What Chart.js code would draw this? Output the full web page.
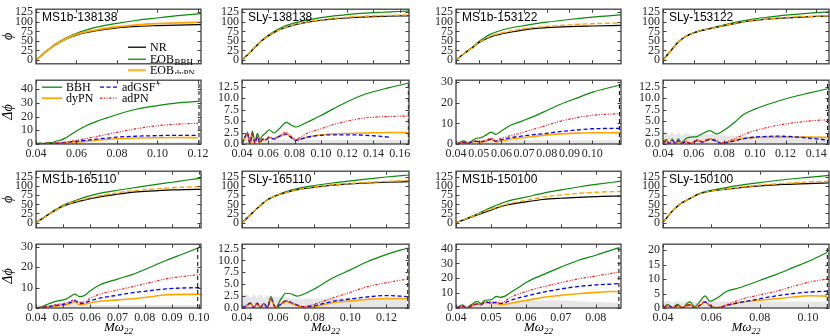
<!DOCTYPE html>
<html>
<head>
<meta charset="utf-8">
<script src="https://cdn.jsdelivr.net/npm/chart.js@4.4.1/dist/chart.umd.min.js"></script>
<style>
  html, body { margin: 0; padding: 0; background: #fff; }
  body { position: relative; width: 830px; height: 336px; overflow: hidden; }
  canvas { position: absolute; }
</style>
</head>
<body>
<script>
// ---- data ----
const phiTicks = [0, 25, 50, 75, 100, 125];

// MS1b-138138
const c1Name = 'MS1b-138138';
const c1XTicks = [0.04, 0.06, 0.08, 0.10, 0.12];
const c1DTicks = [0, 10, 20, 30, 40];
const c1PhiX = [0.04, 0.0425, 0.045, 0.0475, 0.05, 0.055, 0.06, 0.065, 0.07, 0.08, 0.09, 0.10, 0.11, 0.12, 0.1215];
const c1NR = [0, 11, 22, 32, 41, 55, 65, 72, 77, 84, 88, 90, 91.5, 92.5, 92.6];
const c1BBH = [0, 11, 23, 33, 43, 58, 70, 79, 86, 96, 104, 110, 116, 121, 121.8];
const c1DyPN = [0, 11, 22, 32, 42, 56, 67, 74, 79, 87, 92, 95, 97, 98.5, 98.7];
const c1DX = [0.04, 0.042, 0.044, 0.046, 0.048, 0.05, 0.052, 0.055, 0.06, 0.065, 0.07, 0.075, 0.08, 0.09, 0.10, 0.11, 0.12];
const c1dBBH = [0, 0.6, 0.3, 1.2, 1.0, 2.2, 2.6, 4.8, 9.5, 13.5, 16.5, 19, 21.5, 25.5, 28, 30, 31];
const c1dDyPN = [0, 0.1, 0.2, 0.3, 0.2, 0.4, 0.6, 0.9, 1.4, 2, 2.7, 3.3, 3.8, 4.4, 4.6, 4.7, 4.6];
const c1dGSF = [0, 0.1, 0.3, 0.4, 0.3, 0.6, 0.8, 1.2, 2, 2.8, 3.6, 4.3, 5, 5.7, 6.1, 6.3, 6.3];
const c1dPN = [0, 0.2, 0.4, 0.6, 0.5, 0.8, 1.0, 1.5, 2.7, 4, 5.5, 7, 8.5, 11.3, 13.3, 14.5, 15];
const c1Band = [1.5, 1.5, 1.4, 1.4, 1.3, 1.3, 1.3, 1.3, 1.3, 1.3, 1.3, 1.3, 1.3, 1.3, 1.3, 1.3, 1.3];
const c1Merger = 0.1205;

// SLy-138138
const c2Name = 'SLy-138138';
const c2XTicks = [0.04, 0.06, 0.08, 0.10, 0.12, 0.14, 0.16];
const c2DTicks = [0, 2.5, 5, 7.5, 10, 12.5];
const c2PhiX = [0.04, 0.0425, 0.045, 0.0475, 0.05, 0.0525, 0.055, 0.06, 0.065, 0.07, 0.08, 0.09, 0.10, 0.11, 0.12, 0.13, 0.14, 0.15, 0.16, 0.167];
const c2NR = [0, 8, 16, 25, 34, 42, 50, 63, 73, 81, 92, 99, 104, 107.5, 110, 112, 113.5, 114.5, 115.3, 115.8];
const c2BBH = [0, 8, 16, 25, 34, 43, 51, 65, 76, 85, 97, 105, 111, 115.5, 119, 122, 124, 125.5, 127, 128];
const c2DyPN = [0, 8, 16, 25, 34, 42, 50, 63, 73, 81.5, 92.5, 100, 105, 109, 112, 114, 115.5, 116.5, 117.3, 117.8];
const c2DX = [0.04, 0.042, 0.0441, 0.046, 0.0479, 0.0498, 0.0517, 0.0536, 0.0555, 0.058, 0.0606, 0.0644, 0.068, 0.0738, 0.077, 0.081, 0.085, 0.09, 0.10, 0.109, 0.12, 0.134, 0.1522, 0.167];
const c2dBBH = [0, 1.2, 2.5, 0.2, 2.8, 0.5, 2.3, 1.0, 1.8, 2.4, 3.1, 2.4, 3.2, 4.7, 4.2, 3.7, 4.1, 4.8, 6.2, 7.6, 9.2, 10.9, 12.3, 13.3];
const c2dDyPN = [0, 1.3, 2.3, 0.1, 2.1, 0.2, 1.5, 0.2, 1.0, 0.9, 1.4, 1.1, 1.6, 2.1, 1.5, 0.8, 1.1, 1.5, 2.0, 2.2, 2.3, 2.4, 2.5, 2.5];
const c2dGSF = [0, 1.4, 2.4, 0.1, 2.2, 0.2, 1.6, 0.2, 1.0, 0.9, 1.4, 1.1, 1.6, 2.2, 1.5, 0.8, 1.1, 1.5, 1.9, 2.0, 2.0, 1.9, 1.5, null];
const c2dPN = [0, 1.5, 2.6, 0.1, 2.4, 0.2, 1.8, 0.3, 1.2, 1.0, 1.6, 1.2, 1.8, 2.6, 1.8, 1.0, 1.6, 2.4, 3.3, 4.2, 5.0, 5.7, 6.0, 6.1];
const c2Band = [1.0, 1.5, 2.2, 1.2, 2.0, 1.0, 1.5, 1.0, 1.2, 1.0, 1.0, 1.0, 1.0, 0.9, 0.9, 0.9, 0.9, 0.9, 0.9, 0.9, 0.9, 0.9, 0.9, 0.9];
const c2Merger = 0.1665;

// MS1b-153122
const c3Name = 'MS1b-153122';
const c3XTicks = [0.04, 0.05, 0.06, 0.07, 0.08, 0.09, 0.10];
const c3DTicks = [0, 10, 20, 30];
const c3PhiX = [0.04, 0.0425, 0.045, 0.0475, 0.05, 0.0525, 0.055, 0.06, 0.065, 0.07, 0.08, 0.09, 0.10, 0.1127];
const c3NR = [0, 12, 23, 33, 45, 53, 60, 68, 74, 79, 84.5, 87.5, 89, 90.5];
const c3BBH = [0, 12, 24, 35, 48, 58, 67, 78, 85, 90, 99, 106, 112, 118];
const c3DyPN = [0, 12, 23, 34, 46, 54, 62, 71, 77, 82, 88, 92, 95, 97];
const c3DX = [0.04, 0.042, 0.0435, 0.045, 0.047, 0.049, 0.0506, 0.053, 0.0555, 0.0575, 0.06, 0.0638, 0.0675, 0.0711, 0.0785, 0.0858, 0.0932, 0.1005, 0.1127];
const c3dBBH = [0, 1.0, 1.5, 0.6, 1.5, 2.8, 3.0, 4.2, 5.8, 4.7, 6.3, 9.0, 10.5, 12.0, 15.5, 19.2, 22.3, 25.3, 28.8];
const c3dDyPN = [0, 0.4, 0.7, 0.2, 0.9, 1.2, 0.9, 1.3, 2.2, 1.0, 1.5, 2.3, 2.8, 3.3, 4.2, 4.9, 5.3, 5.5, 5.4];
const c3dGSF = [0, 0.5, 0.8, 0.2, 1.0, 1.3, 1.0, 1.5, 2.4, 1.4, 2.1, 3.0, 3.6, 4.2, 5.0, 6.0, 6.8, 7.4, 7.6];
const c3dPN = [0, 0.5, 0.9, 0.3, 1.0, 1.5, 1.2, 1.8, 2.8, 1.8, 2.8, 4.0, 5.0, 6.2, 8.6, 11.0, 12.8, 14.0, 14.8];
const c3Band = [1.5, 1.6, 1.6, 1.7, 1.7, 1.8, 1.8, 1.8, 1.8, 1.8, 1.8, 1.8, 1.8, 1.8, 1.8, 1.8, 1.8, 1.8, 1.8];
const c3Merger = 0.112;

// SLy-153122
const c4Name = 'SLy-153122';
const c4XTicks = [0.04, 0.06, 0.08, 0.10, 0.12, 0.14];
const c4DTicks = [0, 2.5, 5, 7.5, 10, 12.5];
const c4PhiX = [0.04, 0.0425, 0.045, 0.0475, 0.05, 0.055, 0.06, 0.065, 0.07, 0.08, 0.09, 0.10, 0.11, 0.12, 0.13, 0.14, 0.1484];
const c4NR = [0, 12, 24, 36, 47, 62, 71, 77, 81.5, 90, 98, 103.5, 107.5, 110.5, 112.5, 114, 115];
const c4BBH = [0, 12, 24, 36, 47, 62, 71, 77.5, 82.5, 92, 101, 108, 113, 117.5, 121, 124, 126];
const c4DyPN = [0, 12, 24, 36, 47, 62, 71, 77, 81.5, 90.5, 98.5, 104, 108, 111.5, 113.5, 115, 116];
const c4DX = [0.04, 0.042, 0.044, 0.046, 0.048, 0.05, 0.052, 0.055, 0.058, 0.062, 0.066, 0.0705, 0.0749, 0.078, 0.082, 0.087, 0.0921, 0.10, 0.1138, 0.125, 0.135, 0.1484];
const c4dBBH = [0, 1.0, 0.1, 1.1, 0.1, 1.1, 0.3, 1.2, 1.5, 1.6, 2.3, 2.9, 2.2, 2.6, 3.5, 4.8, 6.3, 7.6, 9.2, 10.3, 11.1, 12.1];
const c4dDyPN = [0, 0.7, 0.1, 0.8, 0.1, 0.7, 0.1, 0.5, 0.1, 0.7, 0.4, 1.0, 0.6, 0.1, 0.4, 0.8, 1.2, 1.4, 1.5, 1.5, 1.5, 1.4];
const c4dGSF = [0, 0.7, 0.1, 0.8, 0.1, 0.7, 0.1, 0.5, 0.1, 0.7, 0.4, 1.0, 0.6, 0.1, 0.3, 0.7, 1.1, 1.5, 1.7, 1.6, 1.3, 0.8];
const c4dPN = [0, 0.8, 0.1, 0.9, 0.1, 0.8, 0.1, 0.7, 0.2, 0.9, 0.6, 1.2, 0.8, 0.3, 0.6, 1.2, 2.0, 2.9, 4.0, 4.6, 5.0, 5.3];
const c4Band = [2.0, 2.7, 1.8, 2.7, 1.8, 2.6, 1.8, 2.4, 2.0, 2.2, 2.0, 2.2, 2.0, 1.9, 1.8, 1.8, 1.7, 1.7, 1.7, 1.7, 1.7, 1.7];
const c4Merger = 0.1475;

// MS1b-165110
const c5Name = 'MS1b-165110';
const c5XTicks = [0.04, 0.05, 0.06, 0.07, 0.08, 0.09, 0.10];
const c5DTicks = [0, 10, 20, 30];
const c5PhiX = [0.04, 0.0425, 0.045, 0.0475, 0.05, 0.055, 0.06, 0.065, 0.07, 0.075, 0.08, 0.085, 0.09, 0.095, 0.1007];
const c5NR = [0, 12, 24, 35, 45, 57, 66, 73, 78, 83, 86, 88, 89.8, 90.8, 91.5];
const c5BBH = [0, 12, 25, 37, 48, 62, 74, 83, 89, 94.5, 100.5, 106, 111, 116.5, 122];
const c5DyPN = [0, 12, 24, 35, 46, 59, 68, 76, 82, 87, 90.5, 93.5, 96, 97.5, 99];
const c5DX = [0.04, 0.042, 0.0451, 0.048, 0.05, 0.0512, 0.0525, 0.0543, 0.056, 0.058, 0.06, 0.0634, 0.07, 0.0756, 0.082, 0.0878, 0.094, 0.1007];
const c5dBBH = [0, 0.6, 2.3, 3.5, 4.0, 4.5, 5.5, 6.8, 5.6, 6.3, 8.5, 11.3, 14.2, 16.5, 20, 23.3, 26.5, 30];
const c5dDyPN = [0, 0.2, 0.6, 1.1, 1.4, 1.6, 2.2, 3.1, 1.6, 1.9, 2.6, 3.3, 4.0, 4.5, 5.5, 6.5, 6.7, 6.7];
const c5dGSF = [0, 0.2, 0.8, 1.4, 1.8, 2.0, 2.6, 3.6, 2.2, 2.6, 3.6, 4.8, 6.3, 7.5, 8.5, 9.4, 9.8, 10];
const c5dPN = [0, 0.3, 1.0, 1.8, 2.2, 2.5, 3.2, 4.0, 2.8, 3.2, 4.8, 6.8, 8.8, 10.5, 12.5, 14.3, 15.5, 16.5];
const c5Band = [1.2, 1.3, 1.5, 1.8, 2.2, 2.5, 3, 3.5, 2, 1.6, 1.5, 1.5, 1.5, 1.5, 1.5, 1.5, 1.5, 1.5];
const c5Merger = 0.0995;

// SLy-165110
const c6Name = 'SLy-165110';
const c6XTicks = [0.04, 0.06, 0.08, 0.10, 0.12];
const c6DTicks = [0, 2.5, 5, 7.5, 10, 12.5];
const c6PhiX = [0.04, 0.0425, 0.045, 0.0475, 0.05, 0.0525, 0.055, 0.06, 0.065, 0.07, 0.08, 0.09, 0.10, 0.11, 0.12, 0.1325];
const c6NR = [0, 11, 23, 35, 46, 57, 65, 76, 84, 90, 97.5, 103, 106.5, 109, 111, 112.5];
const c6BBH = [0, 11, 23, 35, 46, 57, 66, 77, 86, 93, 102, 109, 115, 120.5, 125.5, 131];
const c6DyPN = [0, 11, 23, 35, 46, 57, 65, 76, 84, 90, 98, 104, 108, 111, 113.5, 116];
const c6DX = [0.04, 0.0425, 0.0447, 0.0465, 0.0484, 0.0502, 0.0521, 0.054, 0.056, 0.0585, 0.0615, 0.0643, 0.067, 0.0707, 0.074, 0.08, 0.0902, 0.10, 0.1087, 0.1198, 0.1318];
const c6dBBH = [0, 0.5, 1.1, 0.1, 1.0, 0.1, 1.0, 0.2, 2.4, 0.1, 1.8, 3.1, 3.0, 2.5, 2.9, 4.0, 6.3, 8.0, 9.6, 11.2, 12.6];
const c6dDyPN = [0, 0.4, 0.9, 0.1, 0.9, 0.1, 0.8, 0.1, 1.8, 0.1, 0.7, 1.4, 1.0, 0.4, 0.1, 0.3, 1.1, 1.5, 1.8, 2.0, 2.0];
const c6dGSF = [0, 0.5, 1.0, 0.1, 1.0, 0.1, 0.9, 0.1, 1.9, 0.1, 0.8, 1.5, 1.2, 0.6, 0.3, 0.5, 1.4, 1.9, 2.3, 2.6, 2.4];
const c6dPN = [0, 0.5, 1.0, 0.1, 1.0, 0.1, 0.9, 0.1, 1.9, 0.1, 0.8, 1.5, 1.2, 0.6, 0.3, 0.8, 2.1, 3.3, 4.4, 5.3, 6.1];
const c6Band = [2.5, 3.0, 2.0, 3.0, 2.0, 3.0, 2.0, 2.8, 2.2, 2.4, 2.2, 2.2, 2.0, 2.0, 2.0, 2.0, 2.0, 2.0, 2.0, 2.0, 2.0];
const c6Merger = 0.1318;

// MS1b-150100
const c7Name = 'MS1b-150100';
const c7XTicks = [0.04, 0.05, 0.06, 0.07, 0.08];
const c7DTicks = [0, 10, 20, 30, 40];
const c7PhiX = [0.04, 0.0425, 0.045, 0.0475, 0.05, 0.0525, 0.055, 0.06, 0.065, 0.07, 0.075, 0.08, 0.0872];
const c7NR = [0, 8, 17, 26, 34, 43, 49, 57, 63.5, 67, 69.5, 71.5, 73];
const c7BBH = [0, 9, 19, 30, 41, 51, 59.5, 70, 81, 90, 98, 105, 114];
const c7DyPN = [0, 8.5, 18, 28, 37, 45, 52, 61, 70, 76, 80.5, 83.5, 86];
const c7DX = [0.04, 0.0419, 0.043, 0.0445, 0.046, 0.0472, 0.0483, 0.05, 0.0515, 0.0527, 0.054, 0.0555, 0.058, 0.0603, 0.0651, 0.07, 0.0747, 0.08, 0.0867];
const c7dBBH = [0, 2.1, 0.1, 2.5, 4.5, 3.0, 5.2, 5.5, 7.8, 7.2, 8.0, 10.3, 14, 17.5, 22.6, 27.5, 31.8, 35.5, 40.6];
const c7dDyPN = [0, 1.2, 0.1, 1.2, 2.5, 2.0, 3.8, 3.0, 3.0, 2.3, 2.5, 3.1, 4.3, 5.2, 7.2, 8.5, 9.6, 10.5, 11.3];
const c7dGSF = [0, 1.3, 0.1, 1.4, 2.8, 2.3, 4.0, 3.5, 3.8, 3.0, 3.6, 5.0, 6.8, 8.2, 10.7, 12.8, 14.4, 15.5, 16.4];
const c7dPN = [0, 1.5, 0.1, 1.5, 3.0, 2.5, 4.5, 4.0, 4.2, 3.3, 4.5, 7.2, 9.5, 11.3, 14.4, 17, 19.5, 21.5, 24.2];
const c7Band = [1, 1.5, 1.5, 2, 2.5, 2.5, 3, 3, 3, 3, 3.3, 3.5, 4, 4.5, 5, 5, 4.5, 4, 3.5];
const c7Merger = 0.0866;

// SLy-150100
const c8Name = 'SLy-150100';
const c8XTicks = [0.04, 0.06, 0.08, 0.10];
const c8DTicks = [0, 5, 10, 15, 20];
const c8PhiX = [0.04, 0.042, 0.044, 0.046, 0.048, 0.05, 0.0525, 0.055, 0.06, 0.065, 0.07, 0.08, 0.09, 0.10, 0.1087];
const c8NR = [0, 17, 33, 45, 55, 62, 71, 79, 87, 91, 95, 101, 105, 107.5, 109];
const c8BBH = [0, 17, 33, 45, 55, 62, 71, 80, 89, 95, 101, 110, 118, 124.5, 130];
const c8DyPN = [0, 17, 33, 45, 55, 62, 71, 79, 87, 91.5, 96, 103, 108, 111.5, 114];
const c8DX = [0.04, 0.042, 0.044, 0.046, 0.048, 0.05, 0.0512, 0.053, 0.0555, 0.0574, 0.0594, 0.0625, 0.0664, 0.07, 0.0732, 0.08, 0.087, 0.094, 0.1008, 0.108];
const c8dBBH = [0, 1.2, 0.1, 1.3, 0.1, 1.6, 2.1, 0.5, 2.5, 4.2, 2.3, 3.5, 5.8, 6.6, 7.4, 9.5, 11.6, 14, 16.3, 19.2];
const c8dDyPN = [0, 0.8, 0.1, 0.8, 0.1, 0.8, 1.0, 0.1, 1.0, 2.0, 0.8, 0.1, 0.9, 1.6, 2.1, 2.7, 3.2, 3.8, 4.2, 4.1];
const c8dGSF = [0, 0.9, 0.1, 0.9, 0.1, 0.9, 1.1, 0.1, 1.1, 2.1, 0.9, 0.1, 0.9, 1.6, 2.1, 3.2, 4.2, 5.0, 5.5, 5.8];
const c8dPN = [0, 1.0, 0.1, 1.0, 0.1, 1.0, 1.2, 0.1, 1.2, 2.2, 1.0, 0.1, 1.2, 2.3, 3.2, 4.5, 5.8, 7.5, 9.0, 10.0];
const c8Band = [2, 2.6, 1.8, 2.6, 1.8, 2.5, 2.4, 2.0, 2.3, 2.3, 2.2, 2.2, 2.2, 2.2, 2.2, 2.2, 2.2, 2.2, 2.2, 2.2];
const c8Merger = 0.108;

// ---- layout ----
const COLS = [
  { left: 36, right: 201 }, { left: 242, right: 409 },
  { left: 456, right: 621 }, { left: 663, right: 829 }
];
const ROWS = [
  { top: 2, mid: 73, bottom: 144, limit: 162, phiMin: -10, phiMax: 133 },
  { top: 164, mid: 237, bottom: 308, limit: 336, phiMin: -14.5, phiMax: 141.5 }
];
const YAXIS_W = 36, PAD_R = 14;

const cases = [
  { name: c1Name, xt: c1XTicks, dt: c1DTicks, px: c1PhiX, nr: c1NR, bbh: c1BBH, dy: c1DyPN, dx: c1DX, dBBH: c1dBBH, dDy: c1dDyPN, dGSF: c1dGSF, dPN: c1dPN, band: c1Band, merger: c1Merger, xMax: 0.1215, dMax: 46.5, solidDy: true },
  { name: c2Name, xt: c2XTicks, dt: c2DTicks, px: c2PhiX, nr: c2NR, bbh: c2BBH, dy: c2DyPN, dx: c2DX, dBBH: c2dBBH, dDy: c2dDyPN, dGSF: c2dGSF, dPN: c2dPN, band: c2Band, merger: c2Merger, xMax: 0.167, dMax: 13.9 },
  { name: c3Name, xt: c3XTicks, dt: c3DTicks, px: c3PhiX, nr: c3NR, bbh: c3BBH, dy: c3DyPN, dx: c3DX, dBBH: c3dBBH, dDy: c3dDyPN, dGSF: c3dGSF, dPN: c3dPN, band: c3Band, merger: c3Merger, xMax: 0.1127, dMax: 31 },
  { name: c4Name, xt: c4XTicks, dt: c4DTicks, px: c4PhiX, nr: c4NR, bbh: c4BBH, dy: c4DyPN, dx: c4DX, dBBH: c4dBBH, dDy: c4dDyPN, dGSF: c4dGSF, dPN: c4dPN, band: c4Band, merger: c4Merger, xMax: 0.1484, dMax: 13.9 },
  { name: c5Name, xt: c5XTicks, dt: c5DTicks, px: c5PhiX, nr: c5NR, bbh: c5BBH, dy: c5DyPN, dx: c5DX, dBBH: c5dBBH, dDy: c5dDyPN, dGSF: c5dGSF, dPN: c5dPN, band: c5Band, merger: c5Merger, xMax: 0.1007, dMax: 31.3 },
  { name: c6Name, xt: c6XTicks, dt: c6DTicks, px: c6PhiX, nr: c6NR, bbh: c6BBH, dy: c6DyPN, dx: c6DX, dBBH: c6dBBH, dDy: c6dDyPN, dGSF: c6dGSF, dPN: c6dPN, band: c6Band, merger: c6Merger, xMax: 0.1325, dMax: 13.4 },
  { name: c7Name, xt: c7XTicks, dt: c7DTicks, px: c7PhiX, nr: c7NR, bbh: c7BBH, dy: c7DyPN, dx: c7DX, dBBH: c7dBBH, dDy: c7dDyPN, dGSF: c7dGSF, dPN: c7dPN, band: c7Band, merger: c7Merger, xMax: 0.0872, dMax: 42.9 },
  { name: c8Name, xt: c8XTicks, dt: c8DTicks, px: c8PhiX, nr: c8NR, bbh: c8BBH, dy: c8DyPN, dx: c8DX, dBBH: c8dBBH, dDy: c8dDyPN, dGSF: c8dGSF, dPN: c8dPN, band: c8Band, merger: c8Merger, xMax: 0.1087, dMax: 22 }
];

const GREEN = '#0a8a0a', ORANGE = '#ffa500', BLUE = '#0000ff', RED = '#ff1a1a';
const SERIF = "'Liberation Serif', 'DejaVu Serif', serif";

Chart.defaults.font.family = SERIF;
Chart.defaults.font.size = 12;
Chart.defaults.color = '#262626';

const topLegend = [
  { x: 92, y: 38, len: 18, color: '#000', width: 1.3, text: 'NR' },
  { x: 92, y: 50, len: 18, color: GREEN, width: 1.3, text: 'EOB', sub: 'BBH' },
  { x: 92, y: 61, len: 18, color: 'rgba(255,165,0,0.75)', width: 2.6, text: 'EOB', sub: 'dyPN' }
];
const bottomLegend = [
  { x: 6, y: 7, len: 20, color: GREEN, width: 1.3, text: 'BBH' },
  { x: 6, y: 18, len: 20, color: ORANGE, width: 1.8, text: 'dyPN' },
  { x: 64, y: 7, len: 18, color: BLUE, width: 1.3, dash: [4, 2.5], text: 'adGSF', sup: '+' },
  { x: 64, y: 18, len: 18, color: RED, width: 1.2, dash: [2.5, 1.5, 1, 1.5, 1, 1.5], text: 'adPN' }
];

function pts(xs, ys) {
  return xs.map((x, i) => ({ x, y: ys[i] })).filter(p => p.y !== null);
}

// frame, inward ticks, titles and legends
const panelPlugin = {
  id: 'panel',
  afterDraw(chart) {
    const o = chart.options.plugins.panel;
    const { ctx, chartArea: a } = chart;
    const xs = chart.scales.x, ys = chart.scales.y;
    ctx.save();
    ctx.strokeStyle = '#404040';
    ctx.lineWidth = 1;
    ctx.beginPath();
    xs.ticks.forEach(t => {
      const p = Math.round(xs.getPixelForValue(t.value)) + 0.5;
      ctx.moveTo(p, a.bottom); ctx.lineTo(p, a.bottom - 3.5);
      ctx.moveTo(p, a.top); ctx.lineTo(p, a.top + 3.5);
    });
    ys.ticks.forEach(t => {
      const p = Math.round(ys.getPixelForValue(t.value)) + 0.5;
      ctx.moveTo(a.left, p); ctx.lineTo(a.left + 3.5, p);
      ctx.moveTo(a.right, p); ctx.lineTo(a.right - 3.5, p);
    });
    ctx.stroke();
    ctx.lineWidth = 1.3;
    ctx.strokeRect(a.left, a.top, a.right - a.left, a.bottom - a.top);

    ctx.fillStyle = '#000';
    if (o.title) {
      ctx.font = "12px 'Liberation Sans', Arial, sans-serif";
      ctx.textBaseline = 'alphabetic';
      ctx.fillText(o.title, a.left + 6, a.top + 12);
    }
    if (o.yTitle) {
      ctx.save();
      ctx.translate(8, (a.top + a.bottom) / 2);
      ctx.rotate(-Math.PI / 2);
      ctx.textAlign = 'center';
      ctx.textBaseline = 'middle';
      ctx.font = 'italic 14px ' + SERIF;
      ctx.fillText(o.yTitle, 0, 0);
      ctx.restore();
    }
    if (o.xTitle) {
      ctx.textBaseline = 'alphabetic';
      ctx.font = 'italic 13px ' + SERIF;
      const w1 = ctx.measureText('Mω').width;
      ctx.font = 'italic 9px ' + SERIF;
      const w2 = ctx.measureText('22').width;
      const x0 = (a.left + a.right) / 2 - (w1 + w2) / 2;
      ctx.font = 'italic 13px ' + SERIF;
      ctx.fillText('Mω', x0, a.bottom + 23);
      ctx.font = 'italic 9px ' + SERIF;
      ctx.fillText('22', x0 + w1, a.bottom + 26);
    }
    (o.legend || []).forEach(it => {
      const y = a.top + it.y, x = a.left + it.x;
      ctx.save();
      ctx.strokeStyle = it.color;
      ctx.lineWidth = it.width;
      ctx.setLineDash(it.dash || []);
      ctx.beginPath(); ctx.moveTo(x, y); ctx.lineTo(x + it.len, y); ctx.stroke();
      ctx.restore();
      ctx.fillStyle = '#000';
      ctx.textBaseline = 'middle';
      ctx.font = '12px ' + SERIF;
      const tx = x + it.len + 4;
      ctx.fillText(it.text, tx, y + 0.5);
      const w = ctx.measureText(it.text).width;
      if (it.sub) { ctx.font = '9px ' + SERIF; ctx.fillText(it.sub, tx + w + 0.5, y + 3.5); }
      if (it.sup) { ctx.font = '9px ' + SERIF; ctx.fillText(it.sup, tx + w + 0.5, y - 3.5); }
    });
    ctx.restore();
  }
};

function fmtY(ticks) {
  const frac = ticks.some(v => !Number.isInteger(v));
  return v => frac ? v.toFixed(1) : String(v);
}

function makeChart(left, top, width, height, opt) {
  const cv = document.createElement('canvas');
  cv.width = width; cv.height = height;
  cv.style.left = left + 'px'; cv.style.top = top + 'px';
  cv.style.width = width + 'px'; cv.style.height = height + 'px';
  document.body.appendChild(cv);
  return new Chart(cv, {
    type: 'line',
    data: { datasets: opt.datasets },
    options: {
      responsive: false,
      animation: false,
      devicePixelRatio: 1,
      layout: { autoPadding: false, padding: { left: 0, top: 3, right: PAD_R, bottom: opt.padB } },
      elements: { point: { radius: 0 }, line: { tension: 0 } },
      plugins: { legend: { display: false }, tooltip: { enabled: false }, panel: opt.panel },
      scales: {
        x: {
          type: 'linear', min: 0.04, max: opt.xMax,
          grid: { display: false, drawTicks: false }, border: { display: false },
          afterBuildTicks: s => { s.ticks = opt.xTicks.map(v => ({ value: v })); },
          afterFit: s => { s.height = opt.xH; },
          ticks: { display: opt.showX, autoSkip: false, maxRotation: 0, minRotation: 0, padding: 3,
                   callback: v => v.toFixed(2) }
        },
        y: {
          type: 'linear', min: opt.yMin, max: opt.yMax,
          grid: { display: false, drawTicks: false }, border: { display: false },
          afterBuildTicks: s => { s.ticks = opt.yTicks.map(v => ({ value: v })); },
          afterFit: s => { s.width = YAXIS_W; },
          ticks: { autoSkip: false, padding: 3, callback: fmtY(opt.yTicks) }
        }
      }
    },
    plugins: [panelPlugin]
  });
}

cases.forEach((c, i) => {
  const row = ROWS[Math.floor(i / 4)], col = COLS[i % 4];
  const first = i % 4 === 0;
  const width = col.right - col.left + YAXIS_W + PAD_R;
  const smooth = { cubicInterpolationMode: 'monotone', pointRadius: 0, fill: false };

  // phi panel
  makeChart(col.left - YAXIS_W, row.top - 3, width, row.mid - row.top + 4, {
    padB: 1, xH: 0, showX: false, xMax: c.xMax, xTicks: c.xt,
    yMin: row.phiMin, yMax: row.phiMax, yTicks: phiTicks,
    panel: { title: c.name, yTitle: first ? 'ϕ' : null, legend: i === 0 ? topLegend : null },
    datasets: [
      Object.assign({ data: pts(c.px, c.dy), borderColor: ORANGE, borderWidth: c.solidDy ? 1.8 : 1.4,
                      borderDash: c.solidDy ? [] : [5, 2.5] }, smooth),
      Object.assign({ data: pts(c.px, c.nr), borderColor: '#000', borderWidth: 1.2 }, smooth),
      Object.assign({ data: pts(c.px, c.bbh), borderColor: GREEN, borderWidth: 1.2 }, smooth)
    ]
  });

  // delta-phi panel
  makeChart(col.left - YAXIS_W, row.mid - 3, width, row.limit - row.mid + 3, {
    padB: 0, xH: row.limit - row.bottom, showX: true, xMax: c.xMax, xTicks: c.xt,
    yMin: 0, yMax: c.dMax, yTicks: c.dt,
    panel: { yTitle: first ? 'Δϕ' : null, xTitle: row === ROWS[1], legend: i === 0 ? bottomLegend : null },
    datasets: [
      { data: [{ x: c.merger, y: 0 }, { x: c.merger, y: c.dMax }], borderColor: '#000', borderWidth: 1,
        borderDash: [4, 3], pointRadius: 0, fill: false },
      Object.assign({ data: pts(c.dx, c.dPN), borderColor: RED, borderWidth: 1.2,
                      borderDash: [2.5, 1.5, 1, 1.5, 1, 1.5] }, smooth),
      Object.assign({ data: pts(c.dx, c.dGSF), borderColor: BLUE, borderWidth: 1.3, borderDash: [4, 2.5] }, smooth),
      Object.assign({ data: pts(c.dx, c.dDy), borderColor: ORANGE, borderWidth: 1.6 }, smooth),
      Object.assign({ data: pts(c.dx, c.dBBH), borderColor: GREEN, borderWidth: 1.2 }, smooth),
      { data: pts(c.dx, c.band), borderWidth: 0, backgroundColor: '#e6e6e6', fill: 'origin',
        pointRadius: 0, tension: 0 }
    ]
  });
});
</script>
</body>
</html>
